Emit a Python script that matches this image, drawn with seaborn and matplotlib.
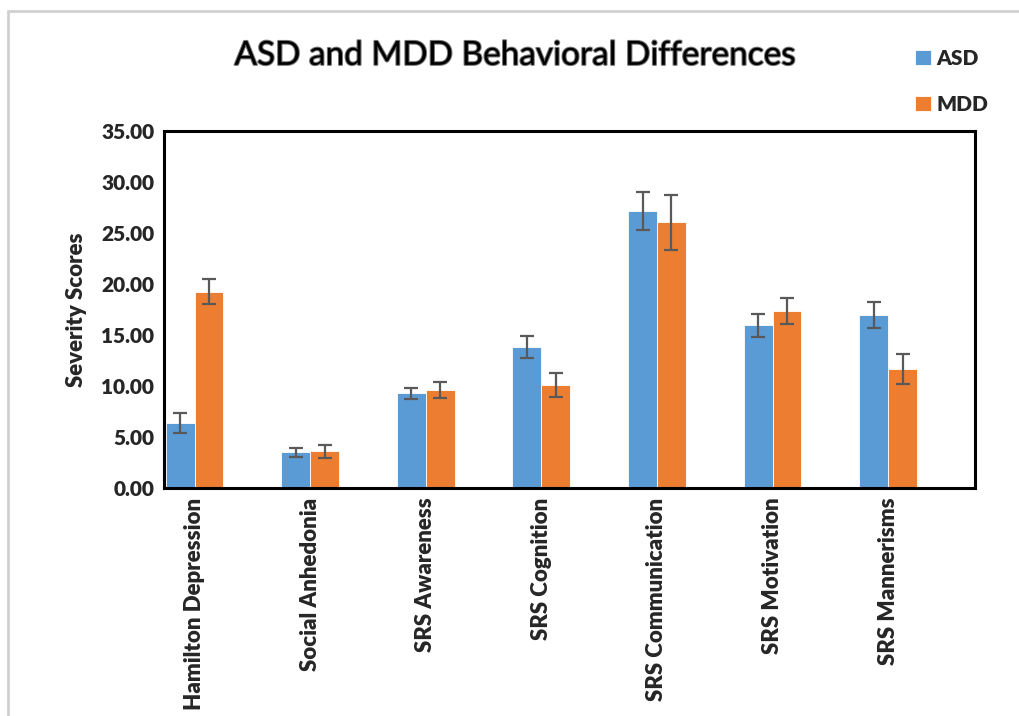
import numpy as np
import pandas as pd
import matplotlib.pyplot as plt
import matplotlib.patheffects as pe
from matplotlib.lines import Line2D
import seaborn as sns

# Data
categories = ["Hamilton Depression", "Social Anhedonia", "SRS Awareness",
              "SRS Cognition", "SRS Communication", "SRS Motivation", "SRS Mannerisms"]
asd_mean = [6.35, 3.50, 9.30, 13.80, 27.15, 15.95, 17.00]
asd_err = [1.00, 0.45, 0.55, 1.07, 1.85, 1.15, 1.27]
mdd_mean = [19.25, 3.60, 9.60, 10.10, 26.05, 17.35, 11.65]
mdd_err = [1.20, 0.65, 0.80, 1.15, 2.70, 1.27, 1.45]
groups = ["ASD", "MDD"]
colors = ["#5B9BD5", "#ED7D31"]

df = pd.DataFrame({
    "Category": categories * 2,
    "Group": ["ASD"] * len(categories) + ["MDD"] * len(categories),
    "Score": asd_mean + mdd_mean,
})

sns.set_theme(style="white")
plt.rcParams['font.family'] = ['Lato', 'DejaVu Sans']

fig = plt.figure(figsize=(10.2, 7.16), dpi=100)
ax = fig.add_axes([0.1608, 0.3184, 0.795, 0.4986])

sns.barplot(data=df, x="Category", y="Score", hue="Group", order=categories,
            hue_order=groups, palette=colors, width=0.5, errorbar=None,
            edgecolor="white", linewidth=0.6, saturation=1, ax=ax)

# Error bars placed on the bars seaborn drew
for i, g in enumerate(groups):
    cont = ax.containers[i]
    xs = [p.get_x() + p.get_width() / 2 for p in cont.patches]
    ys = [p.get_height() for p in cont.patches]
    errs = asd_err if g == "ASD" else mdd_err
    ax.errorbar(xs, ys, yerr=errs, fmt="none", ecolor="#595959",
                elinewidth=1.6, capsize=5, capthick=1.6, zorder=5)

ax.set_xlim(-0.264, 6.75)
ax.set_ylim(0, 35)
ticks = np.arange(0, 36, 5)
ax.set_yticks(ticks)
ax.set_yticklabels([f"{v:.2f}" for v in ticks], fontsize=15, fontweight="heavy")
ax.set_xticks(range(len(categories)))
ax.set_xticklabels(categories, rotation=90, fontsize=16, fontweight="heavy",
                   va="top", ha="center")
ax.tick_params(axis="both", length=0, pad=7)
ax.set_xlabel("")
ax.set_ylabel("Severity Scores", fontsize=16, fontweight="heavy", labelpad=10)

for s in ax.spines.values():
    s.set_visible(True)
    s.set_color("black")
    s.set_linewidth(2.2)

fig.text(0.505, 0.922, "ASD and MDD Behavioral Differences", ha="center",
         va="center", fontsize=24, color="black",
         path_effects=[pe.withStroke(linewidth=1.5, foreground="#777777")])

leg = ax.legend(loc="upper left", bbox_to_anchor=(0.879, 0.958),
                bbox_transform=fig.transFigure, frameon=False,
                prop={"weight": "heavy", "size": 15}, handlelength=0.75,
                handleheight=0.75, handletextpad=0.25, labelspacing=1.3)

# light border around the chart area (top and left edges visible)
fig.add_artist(Line2D([0.008, 1.0], [0.985, 0.985], transform=fig.transFigure,
                      color="#d0d0d0", linewidth=2))
fig.add_artist(Line2D([0.008, 0.008], [0.0, 0.985], transform=fig.transFigure,
                      color="#d0d0d0", linewidth=2))

fig.savefig("out.png", dpi=100)
